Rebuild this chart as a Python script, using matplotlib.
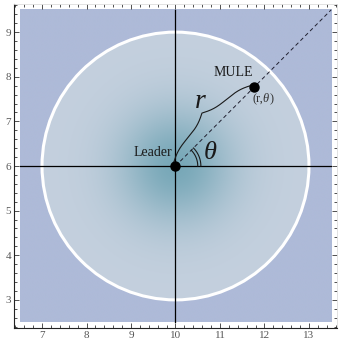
import numpy as np
import matplotlib
matplotlib.use('Agg')
import matplotlib.pyplot as plt
from matplotlib.ticker import MultipleLocator

# Leader / follower geometry
leader = (10.0, 6.0)
radius = 3.0
mule_r = 2.5
mule_theta = np.pi / 4
region_x = (6.5, 13.5)
region_y = (2.5, 9.5)
x_ticks = [7, 8, 9, 10, 11, 12, 13]
y_ticks = [3, 4, 5, 6, 7, 8, 9]

outside_rgb = np.array([174, 186, 216]) / 255
edge_rgb = np.array([196, 208, 222]) / 255
center_rgb = np.array([120, 168, 184]) / 255
sigma = 0.9

plt.rcParams['font.family'] = ['Liberation Serif', 'DejaVu Serif']

fig = plt.figure(figsize=(3.39, 3.39), dpi=100)
ax = fig.add_axes([14 / 339, 11 / 339, 323 / 339, 324 / 339])

# shaded density field inside the circle
xs = np.linspace(region_x[0], region_x[1], 600)
ys = np.linspace(region_y[0], region_y[1], 600)
X, Y = np.meshgrid(xs, ys)
D2 = (X - leader[0]) ** 2 + (Y - leader[1]) ** 2
w = np.exp(-D2 / (2 * sigma ** 2))[..., None]
img = edge_rgb * (1 - w) + center_rgb * w
img[D2 > radius ** 2] = outside_rgb
ax.imshow(img, extent=[*region_x, *region_y], origin='lower', interpolation='bilinear', zorder=0)

circ = plt.Circle(leader, radius, fill=False, color='white', lw=2.2, zorder=2)
ax.add_patch(circ)

# coordinate axes through the leader
ax.plot(region_x, [leader[1]] * 2, color='black', lw=0.9, zorder=3)
ax.plot([leader[0]] * 2, region_y, color='black', lw=0.9, zorder=3)

# heading ray
ax.plot([leader[0], region_x[1]], [leader[1], leader[1] + region_x[1] - leader[0]],
        color='#202030', lw=0.7, ls=(0, (4, 3)), zorder=3)

mule = (leader[0] + mule_r * np.cos(mule_theta), leader[1] + mule_r * np.sin(mule_theta))
ax.plot(*leader, 'o', color='black', ms=6.5, zorder=5)
ax.plot(*mule, 'o', color='black', ms=6.5, zorder=5)

# curly brace between leader and mule
def brace(p0, p1, width, beta=6.0):
    p0, p1 = np.array(p0), np.array(p1)
    d = p1 - p0
    L = np.hypot(*d)
    u = d / L
    n = np.array([-u[1], u[0]])
    t = np.linspace(0, L / 2, 200)
    half = 1 / (1 + np.exp(-beta * (t - t[0]))) + 1 / (1 + np.exp(-beta * (t - t[-1])))
    half = half - half[0]
    half = half / half[-1]
    tt = np.concatenate([t, L - t[::-1]])
    hh = np.concatenate([half, half[::-1]]) * width
    pts = p0[None, :] + tt[:, None] * u[None, :] + hh[:, None] * n[None, :]
    return pts[:, 0], pts[:, 1]

bx, by = brace((leader[0] - 0.04, leader[1] + 0.08), (mule[0] - 0.06, mule[1] + 0.04), 0.34)
ax.plot(bx, by, color='#1a1a1a', lw=0.8, zorder=4)

# angle marker
a = np.linspace(0, mule_theta, 60)
for rr in (0.5, 0.57):
    ax.plot(leader[0] + rr * np.cos(a), leader[1] + rr * np.sin(a), color='#1a1a1a', lw=0.8, zorder=4)

ax.text(9.5, 6.3, 'Leader', fontsize=10, ha='center', va='center', color='#1a1a1a', zorder=6)
ax.text(11.3, 8.1, 'MULE', fontsize=10, ha='center', va='center', color='#1a1a1a', zorder=6)
ax.text(11.86, 7.5, '(r,', fontsize=9, ha='center', va='center', color='#333333', zorder=6)
ax.text(11.96, 7.5, 'θ', fontsize=9, style='italic', ha='left', va='center', color='#333333', zorder=6)
ax.text(12.11, 7.5, ')', fontsize=9, ha='left', va='center', color='#333333', zorder=6)
ax.text(10.55, 7.45, 'r', fontsize=20, style='italic', ha='center', va='center', color='#1a1a1a', zorder=6)
ax.text(10.78, 6.3, 'θ', fontsize=19, style='italic', ha='center', va='center', color='#1a1a1a', zorder=6)

ax.set_xlim(6.37, 13.63)
ax.set_ylim(2.37, 9.63)
ax.set_aspect('auto')
ax.set_xticks(x_ticks)
ax.set_yticks(y_ticks)
ax.xaxis.set_minor_locator(MultipleLocator(0.2))
ax.yaxis.set_minor_locator(MultipleLocator(0.2))
ax.tick_params(which='both', direction='in', top=True, right=True, colors='#333333',
               labelsize=8, labelcolor='#555555', width=0.6, pad=2)
ax.tick_params(which='major', length=3.5)
ax.tick_params(which='minor', length=2)
for side in ('left', 'bottom'):
    ax.spines[side].set_color('#222222')
    ax.spines[side].set_linewidth(0.8)
for side in ('top', 'right'):
    ax.spines[side].set_color('#dddddd')
    ax.spines[side].set_linewidth(0.6)

fig.savefig('out.png', dpi=100)
